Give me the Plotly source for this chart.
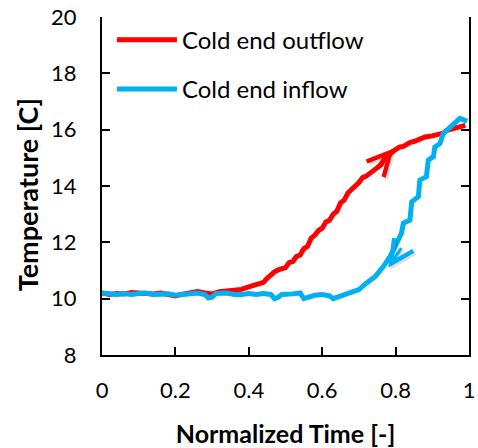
import plotly.graph_objects as go

# Cold end outflow temperature vs normalized time
outflow_t = [0.00, 0.02, 0.04, 0.06, 0.08, 0.10, 0.12, 0.14, 0.16, 0.18,
             0.20, 0.22, 0.24, 0.26, 0.28, 0.30, 0.32, 0.34, 0.36, 0.38,
             0.40, 0.41, 0.42, 0.43, 0.44, 0.45, 0.46, 0.47, 0.48, 0.49,
             0.50, 0.51, 0.52, 0.53, 0.54, 0.55, 0.56, 0.57, 0.58, 0.59,
             0.60, 0.61, 0.62, 0.63, 0.64, 0.65, 0.66, 0.67, 0.68, 0.69,
             0.70, 0.71, 0.72, 0.73, 0.74, 0.75, 0.76, 0.77, 0.78, 0.79,
             0.80, 0.81, 0.82, 0.83, 0.84, 0.85, 0.86, 0.87, 0.88, 0.90,
             0.92, 0.93, 0.94, 0.96, 0.975, 0.99]
outflow_T = [10.20, 10.15, 10.18, 10.17, 10.22, 10.20, 10.15, 10.17, 10.20, 10.15,
             10.10, 10.16, 10.22, 10.25, 10.20, 10.17, 10.25, 10.28, 10.28, 10.33,
             10.42, 10.45, 10.52, 10.55, 10.58, 10.72, 10.85, 10.95, 11.02, 11.05,
             11.10, 11.28, 11.32, 11.50, 11.55, 11.78, 11.85, 12.15, 12.25, 12.42,
             12.50, 12.72, 12.78, 13.00, 13.10, 13.40, 13.50, 13.75, 13.85, 14.00,
             14.12, 14.30, 14.35, 14.45, 14.55, 14.68, 14.75, 14.98, 15.05, 15.20,
             15.28, 15.38, 15.40, 15.50, 15.55, 15.58, 15.65, 15.72, 15.74, 15.78,
             15.85, 15.88, 15.98, 16.05, 16.10, 16.15]

# Cold end inflow temperature vs normalized time
inflow_t = [0.00, 0.02, 0.04, 0.06, 0.08, 0.10, 0.12, 0.14, 0.16, 0.18,
            0.20, 0.22, 0.24, 0.26, 0.28, 0.29, 0.30, 0.31, 0.34, 0.36,
            0.38, 0.40, 0.42, 0.44, 0.46, 0.47, 0.48, 0.49, 0.52, 0.54,
            0.55, 0.56, 0.58, 0.60, 0.62, 0.63, 0.64, 0.66, 0.68, 0.70,
            0.72, 0.744, 0.766, 0.785, 0.803, 0.816, 0.821, 0.839, 0.844, 0.862,
            0.866, 0.884, 0.889, 0.903, 0.907, 0.921, 0.930, 0.948, 0.962, 0.975,
            0.985, 0.995]
inflow_T = [10.20, 10.18, 10.15, 10.18, 10.15, 10.18, 10.20, 10.15, 10.18, 10.17,
            10.12, 10.15, 10.17, 10.20, 10.15, 10.02, 10.05, 10.18, 10.20, 10.15,
            10.15, 10.18, 10.15, 10.18, 10.15, 10.00, 10.05, 10.15, 10.17, 10.20,
            10.00, 10.05, 10.12, 10.15, 10.10, 10.00, 10.05, 10.15, 10.22, 10.32,
            10.55, 10.78, 11.13, 11.50, 11.97, 12.32, 12.68, 12.79, 13.44, 13.62,
            14.21, 14.33, 14.92, 15.04, 15.39, 15.51, 15.87, 16.10, 16.28, 16.40,
            16.35, 16.30]

x_ticks = [0, 0.2, 0.4, 0.6, 0.8, 1]
y_ticks = [8, 10, 12, 14, 16, 18, 20]

RED = "#FF0000"
BLUE = "#00B0F0"
FONT = "Lato"

fig = go.Figure()
fig.add_trace(go.Scatter(x=outflow_t, y=outflow_T, mode="lines",
                         name="Cold end outflow", legendgroup="a",
                         line=dict(color=RED, width=5)))
fig.add_trace(go.Scatter(x=inflow_t, y=inflow_T, mode="lines",
                         name="Cold end inflow", legendgroup="b",
                         line=dict(color=BLUE, width=5)))

# direction arrows along each curve, with a soft grey shadow under each
arrows = [
    dict(x=0.795, y=15.33, ax=-18, ay=20, color=RED),
    dict(x=0.780, y=11.10, ax=14, ay=-21, color=BLUE),
]
for a in arrows:
    fig.add_annotation(x=a["x"], y=a["y"], ax=a["ax"], ay=a["ay"],
                       xref="x", yref="y", showarrow=True, text="",
                       arrowhead=5, arrowsize=1.5, arrowwidth=3,
                       arrowcolor="rgba(0,0,0,0.12)", xshift=2, yshift=-2)
    fig.add_annotation(x=a["x"], y=a["y"], ax=a["ax"], ay=a["ay"],
                       xref="x", yref="y", showarrow=True, text="",
                       arrowhead=5, arrowsize=1.5, arrowwidth=3,
                       arrowcolor=a["color"])

# vertical axis title, placed beside the tick labels
fig.add_annotation(text="<b>Temperature [C]</b>", textangle=-90,
                   xref="paper", yref="paper", x=-0.204, y=0.473,
                   xanchor="center", yanchor="middle", showarrow=False,
                   font=dict(family=FONT, size=27, color="black"))

axis_common = dict(showgrid=False, zeroline=False, showline=True,
                   linecolor="black", linewidth=2, ticks="inside",
                   ticklen=8, tickwidth=1.5, tickcolor="black",
                   automargin=False)

fig.update_layout(
    width=478, height=448,
    margin=dict(l=102, r=9, t=17, b=93),
    paper_bgcolor="white", plot_bgcolor="white",
    font=dict(family=FONT, size=22, color="black"),
    showlegend=True,
    legend=dict(x=0.027, y=0.998, xanchor="left", yanchor="top",
                bgcolor="rgba(0,0,0,0)", font=dict(size=24),
                itemwidth=60, tracegroupgap=15, traceorder="grouped"),
    xaxis=dict(range=[0, 1], tickvals=x_ticks,
               ticktext=[f"{v:g}" for v in x_ticks],
               ticklabelstandoff=15,
               title=dict(text="<b>Normalized Time [-]</b>", standoff=23,
                          font=dict(size=25)),
               **axis_common),
    xaxis2=dict(range=[0, 1], overlaying="x", side="top", anchor="y",
                dtick=0.1, tick0=0, showticklabels=False, **axis_common),
    yaxis=dict(range=[8, 20], tickvals=y_ticks, mirror="ticks",
               ticklabelstandoff=19, **axis_common),
)

fig.write_html("out.html")
